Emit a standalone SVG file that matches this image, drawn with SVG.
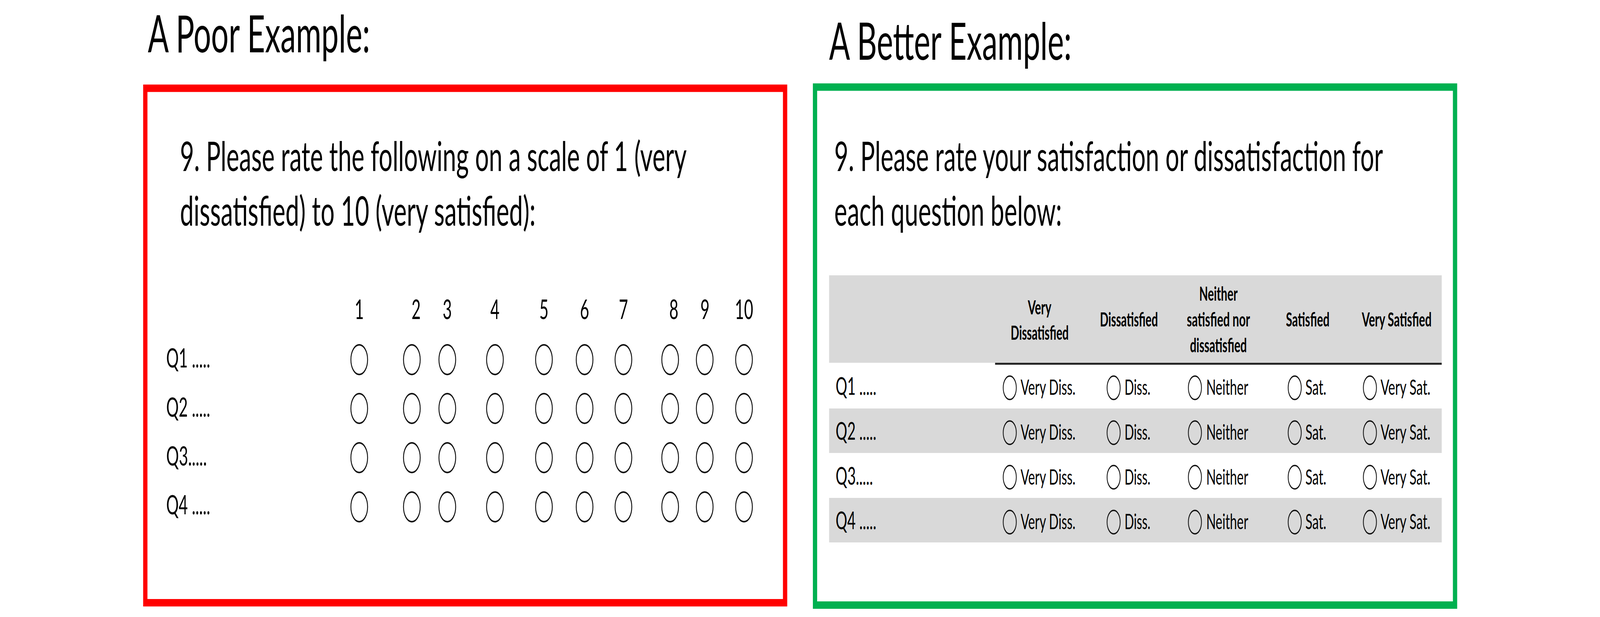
<svg xmlns="http://www.w3.org/2000/svg" width="7086" height="1580" viewBox="0 0 7086 1580" preserveAspectRatio="none" style="width:100vw;height:100vh;display:block">
<style>
text{font-family:Lato,"Liberation Sans",sans-serif;fill:#000}
.title{font-size:132px}
.q{font-size:104px}
.num{font-size:70px;text-anchor:middle}
.ql{font-size:67px}
.rql{font-size:61px}
.opt{font-size:55px}
.hd{font-size:49px;font-weight:bold}
.rad{fill:none;stroke:#111;stroke-width:4}
.rad2{fill:none;stroke:#111;stroke-width:3.5}
.band{fill:#d9d9d9}
</style>
<defs>
<ellipse id="c1" cx="0" cy="0" rx="37" ry="38" class="rad"/>
<ellipse id="c2" cx="0" cy="0" rx="29" ry="30" class="rad2"/>
</defs>
<rect width="7086" height="1580" fill="#fff"/>

<g id="poor">
<text class="title" x="655" y="134" textLength="984" lengthAdjust="spacingAndGlyphs">A Poor Example:</text>
<rect x="643.5" y="226" width="2833.5" height="1317.5" fill="none" stroke="#ff0000" stroke-width="19"/>
<text class="q" x="797" y="438" textLength="2244" lengthAdjust="spacingAndGlyphs">9. Please rate the following on a scale of 1 (very</text>
<text class="q" x="797" y="578" textLength="1575" lengthAdjust="spacingAndGlyphs">dissatisfied) to 10 (very satisfied):</text>
<g id="poor-scale">
<text class="num" x="1591" y="817">1</text>
<text class="num" x="1843" y="817">2</text>
<text class="num" x="1981" y="817">3</text>
<text class="num" x="2192" y="817">4</text>
<text class="num" x="2409" y="817">5</text>
<text class="num" x="2589" y="817">6</text>
<text class="num" x="2761" y="817">7</text>
<text class="num" x="2984" y="817">8</text>
<text class="num" x="3122" y="817">9</text>
<text class="num" x="3295" y="817">10</text>
</g>
<g id="poor-labels">
<text class="ql" x="736" y="941" textLength="195" lengthAdjust="spacingAndGlyphs">Q1 .....</text>
<text class="ql" x="736" y="1067" textLength="195" lengthAdjust="spacingAndGlyphs">Q2 .....</text>
<text class="ql" x="736" y="1192" textLength="180" lengthAdjust="spacingAndGlyphs">Q3.....</text>
<text class="ql" x="736" y="1317" textLength="195" lengthAdjust="spacingAndGlyphs">Q4 .....</text>
</g>
<g id="poor-circles">
<g transform="translate(0,921)">
<use href="#c1" x="1591"/><use href="#c1" x="1824"/><use href="#c1" x="1981"/><use href="#c1" x="2192"/><use href="#c1" x="2409"/><use href="#c1" x="2589"/><use href="#c1" x="2761"/><use href="#c1" x="2968"/><use href="#c1" x="3121"/><use href="#c1" x="3295"/>
</g>
<g transform="translate(0,1046)">
<use href="#c1" x="1591"/><use href="#c1" x="1824"/><use href="#c1" x="1981"/><use href="#c1" x="2192"/><use href="#c1" x="2409"/><use href="#c1" x="2589"/><use href="#c1" x="2761"/><use href="#c1" x="2968"/><use href="#c1" x="3121"/><use href="#c1" x="3295"/>
</g>
<g transform="translate(0,1172)">
<use href="#c1" x="1591"/><use href="#c1" x="1824"/><use href="#c1" x="1981"/><use href="#c1" x="2192"/><use href="#c1" x="2409"/><use href="#c1" x="2589"/><use href="#c1" x="2761"/><use href="#c1" x="2968"/><use href="#c1" x="3121"/><use href="#c1" x="3295"/>
</g>
<g transform="translate(0,1298)">
<use href="#c1" x="1591"/><use href="#c1" x="1824"/><use href="#c1" x="1981"/><use href="#c1" x="2192"/><use href="#c1" x="2409"/><use href="#c1" x="2589"/><use href="#c1" x="2761"/><use href="#c1" x="2968"/><use href="#c1" x="3121"/><use href="#c1" x="3295"/>
</g>
</g>
</g>

<g id="better">
<text class="title" x="3672" y="153" textLength="1074" lengthAdjust="spacingAndGlyphs">A Better Example:</text>
<rect x="3609.5" y="223" width="2834.5" height="1326.5" fill="none" stroke="#00b050" stroke-width="19"/>
<text class="q" x="3695" y="438" textLength="2430" lengthAdjust="spacingAndGlyphs">9. Please rate your satisfaction or dissatisfaction for</text>
<text class="q" x="3695" y="578" textLength="1008" lengthAdjust="spacingAndGlyphs">each question below:</text>
<g id="table-bands">
<rect class="band" x="3672" y="705" width="2713" height="224"/>
<rect class="band" x="3672" y="1046" width="2713" height="114"/>
<rect class="band" x="3672" y="1275" width="2713" height="114"/>
<rect x="4407" y="929" width="1978" height="5" fill="#262626"/>
</g>
<g id="table-header">
<text class="hd" x="4552" y="805" textLength="104" lengthAdjust="spacingAndGlyphs">Very</text>
<text class="hd" x="4476" y="870" textLength="257" lengthAdjust="spacingAndGlyphs">Dissatisfied</text>
<text class="hd" x="4871" y="836" textLength="257" lengthAdjust="spacingAndGlyphs">Dissatisfied</text>
<text class="hd" x="5311" y="770" textLength="170" lengthAdjust="spacingAndGlyphs">Neither</text>
<text class="hd" x="5256" y="836" textLength="280" lengthAdjust="spacingAndGlyphs">satisfied nor</text>
<text class="hd" x="5270" y="902" textLength="252" lengthAdjust="spacingAndGlyphs">dissatisfied</text>
<text class="hd" x="5695" y="836" textLength="193" lengthAdjust="spacingAndGlyphs">Satisfied</text>
<text class="hd" x="6031" y="836" textLength="309" lengthAdjust="spacingAndGlyphs">Very Satisfied</text>
</g>
<g id="table-rows">
<text class="rql" x="3701" y="1011" textLength="180" lengthAdjust="spacingAndGlyphs">Q1 .....</text>
<text class="rql" x="3701" y="1126" textLength="180" lengthAdjust="spacingAndGlyphs">Q2 .....</text>
<text class="rql" x="3701" y="1241" textLength="165" lengthAdjust="spacingAndGlyphs">Q3.....</text>
<text class="rql" x="3701" y="1355" textLength="180" lengthAdjust="spacingAndGlyphs">Q4 .....</text>
</g>
<g id="table-options">
<g id="row1">
<use href="#c2" x="4472" y="993"/><text class="opt" x="4520" y="1011" textLength="243" lengthAdjust="spacingAndGlyphs">Very Diss.</text>
<use href="#c2" x="4932" y="993"/><text class="opt" x="4980" y="1011" textLength="115" lengthAdjust="spacingAndGlyphs">Diss.</text>
<use href="#c2" x="5292" y="993"/><text class="opt" x="5342" y="1011" textLength="186" lengthAdjust="spacingAndGlyphs">Neither</text>
<use href="#c2" x="5734" y="993"/><text class="opt" x="5781" y="1011" textLength="93" lengthAdjust="spacingAndGlyphs">Sat.</text>
<use href="#c2" x="6067" y="993"/><text class="opt" x="6114" y="1011" textLength="221" lengthAdjust="spacingAndGlyphs">Very Sat.</text>
</g>
<g id="row2">
<use href="#c2" x="4472" y="1108"/><text class="opt" x="4520" y="1126" textLength="243" lengthAdjust="spacingAndGlyphs">Very Diss.</text>
<use href="#c2" x="4932" y="1108"/><text class="opt" x="4980" y="1126" textLength="115" lengthAdjust="spacingAndGlyphs">Diss.</text>
<use href="#c2" x="5292" y="1108"/><text class="opt" x="5342" y="1126" textLength="186" lengthAdjust="spacingAndGlyphs">Neither</text>
<use href="#c2" x="5734" y="1108"/><text class="opt" x="5781" y="1126" textLength="93" lengthAdjust="spacingAndGlyphs">Sat.</text>
<use href="#c2" x="6067" y="1108"/><text class="opt" x="6114" y="1126" textLength="221" lengthAdjust="spacingAndGlyphs">Very Sat.</text>
</g>
<g id="row3">
<use href="#c2" x="4472" y="1222"/><text class="opt" x="4520" y="1241" textLength="243" lengthAdjust="spacingAndGlyphs">Very Diss.</text>
<use href="#c2" x="4932" y="1222"/><text class="opt" x="4980" y="1241" textLength="115" lengthAdjust="spacingAndGlyphs">Diss.</text>
<use href="#c2" x="5292" y="1222"/><text class="opt" x="5342" y="1241" textLength="186" lengthAdjust="spacingAndGlyphs">Neither</text>
<use href="#c2" x="5734" y="1222"/><text class="opt" x="5781" y="1241" textLength="93" lengthAdjust="spacingAndGlyphs">Sat.</text>
<use href="#c2" x="6067" y="1222"/><text class="opt" x="6114" y="1241" textLength="221" lengthAdjust="spacingAndGlyphs">Very Sat.</text>
</g>
<g id="row4">
<use href="#c2" x="4472" y="1337"/><text class="opt" x="4520" y="1355" textLength="243" lengthAdjust="spacingAndGlyphs">Very Diss.</text>
<use href="#c2" x="4932" y="1337"/><text class="opt" x="4980" y="1355" textLength="115" lengthAdjust="spacingAndGlyphs">Diss.</text>
<use href="#c2" x="5292" y="1337"/><text class="opt" x="5342" y="1355" textLength="186" lengthAdjust="spacingAndGlyphs">Neither</text>
<use href="#c2" x="5734" y="1337"/><text class="opt" x="5781" y="1355" textLength="93" lengthAdjust="spacingAndGlyphs">Sat.</text>
<use href="#c2" x="6067" y="1337"/><text class="opt" x="6114" y="1355" textLength="221" lengthAdjust="spacingAndGlyphs">Very Sat.</text>
</g>
</g>
</g>
<g id="connectors"/>
</svg>
